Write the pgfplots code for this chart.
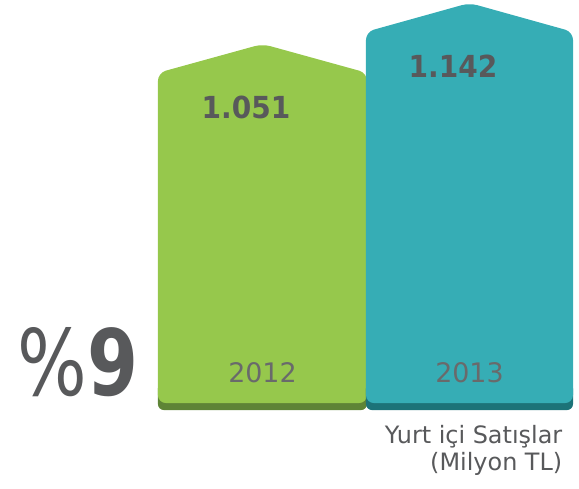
\documentclass[border=0pt]{standalone}
\usepackage{fontspec}
\setmainfont{DejaVu Sans}
\usepackage{pgfplots}
\pgfplotsset{compat=1.18}
\definecolor{cgreen}{HTML}{96C84C}
\definecolor{cgreendk}{HTML}{5E8436}
\definecolor{cteal}{HTML}{36ADB5}
\definecolor{ctealdk}{HTML}{1C7378}
\definecolor{ctext}{HTML}{58595B}
\begin{document}
\begin{tikzpicture}
\begin{axis}[
  hide axis, scale only axis, width=579bp, height=489bp,
  xmin=-1.268, xmax=1.529, ymin=63.3, ymax=1148.7, clip=false]
\addplot[fill=cgreendk, draw=none, rounded corners=6bp] coordinates {(0,238.5) (0.505,238.5) (0.505,300) (-0.505,300) (-0.505,238.5)} -- cycle;
\addplot[fill=cgreen, draw=none, rounded corners=8bp] coordinates {(0,254) (0.505,254) (0.505,987) (0,1051) (-0.505,987) (-0.505,254)} -- cycle;
\addplot[fill=ctealdk, draw=none, rounded corners=6bp] coordinates {(1,238.5) (1.5,238.5) (1.5,300) (0.5,300) (0.5,238.5)} -- cycle;
\addplot[fill=cteal, draw=none, rounded corners=8bp] coordinates {(1,254) (1.5,254) (1.5,1078) (1,1142) (0.5,1078) (0.5,254)} -- cycle;
\node[text=ctext, font=\bfseries\fontsize{29}{30}\selectfont] at (axis cs:-0.08,911) {\scalebox{0.97}[1.05]{1.051}};
\node[text=ctext, font=\bfseries\fontsize{29}{30}\selectfont] at (axis cs:0.92,1002) {\scalebox{0.97}[1.05]{1.142}};
\node[text=ctext!90, font=\fontsize{27}{28}\selectfont] at (axis cs:0,321) {2012};
\node[text=ctext!90, font=\fontsize{27}{28}\selectfont] at (axis cs:1,321) {2013};
\node[text=ctext, font=\fontsize{92}{96}\selectfont, anchor=east, inner sep=0pt] at (axis cs:-0.6,345) {\scalebox{0.8}[1]{\%\textbf{9}}};
\node[text=ctext, font=\fontsize{24}{27}\selectfont, anchor=north east, align=right, inner sep=0pt] at (axis cs:1.449,205) {Yurt içi Satışlar\\(Milyon TL)};
\pgfresetboundingbox
\useasboundingbox (rel axis cs:0,0) rectangle (rel axis cs:1,1);
\end{axis}
\end{tikzpicture}
\end{document}
